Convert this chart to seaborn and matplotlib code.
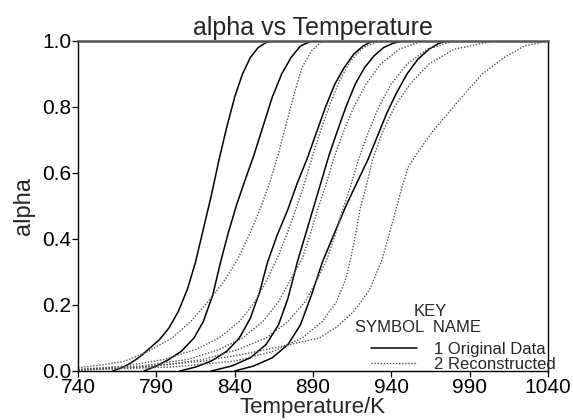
import matplotlib
matplotlib.use("Agg")
import matplotlib.pyplot as plt
import seaborn as sns
from matplotlib.lines import Line2D

# ---- data (Temperature/K, alpha) ----
orig1_T = [762, 768, 774, 780, 786, 792, 798, 804, 810, 815, 820, 825, 830, 835, 840, 845, 850, 855, 860, 864]
orig1_a = [0.0, 0.01, 0.025, 0.045, 0.07, 0.095, 0.13, 0.18, 0.25, 0.33, 0.43, 0.53, 0.64, 0.74, 0.83, 0.90, 0.95, 0.98, 0.995, 1.0]

orig2_T = [782, 790, 798, 806, 814, 820, 826, 831, 836, 841, 846, 852, 858, 864, 870, 876, 882, 889]
orig2_a = [0.0, 0.015, 0.035, 0.06, 0.10, 0.15, 0.23, 0.33, 0.42, 0.50, 0.57, 0.65, 0.74, 0.83, 0.90, 0.95, 0.985, 1.0]

orig3_T = [805, 815, 825, 835, 843, 850, 856, 861, 867, 874, 880, 886, 892, 898, 904, 910, 916, 922, 928]
orig3_a = [0.0, 0.012, 0.03, 0.06, 0.10, 0.16, 0.24, 0.33, 0.41, 0.49, 0.57, 0.64, 0.72, 0.80, 0.87, 0.92, 0.96, 0.985, 1.0]

orig4_T = [825, 838, 850, 860, 868, 874, 880, 885, 890, 895, 900, 905, 911, 917, 923, 929, 935, 941, 947]
orig4_a = [0.0, 0.015, 0.04, 0.08, 0.14, 0.22, 0.33, 0.41, 0.49, 0.57, 0.65, 0.72, 0.80, 0.87, 0.92, 0.955, 0.98, 0.993, 1.0]

orig5_T = [840, 852, 864, 874, 882, 889, 896, 903, 911, 918, 925, 931, 937, 943, 950, 957, 964, 970, 975]
orig5_a = [0.0, 0.015, 0.04, 0.08, 0.14, 0.23, 0.33, 0.41, 0.50, 0.57, 0.64, 0.71, 0.78, 0.84, 0.90, 0.945, 0.975, 0.992, 1.0]

recon1_T = [740, 755, 770, 785, 800, 812, 823, 833, 842, 850, 857, 863, 868, 873, 878, 883, 889, 896]
recon1_a = [0.01, 0.018, 0.03, 0.06, 0.10, 0.15, 0.21, 0.27, 0.34, 0.42, 0.50, 0.58, 0.66, 0.75, 0.84, 0.92, 0.97, 1.0]

recon2_T = [740, 770, 795, 815, 830, 843, 853, 861, 867, 873, 879, 884, 889, 895, 901, 907, 914, 922, 932]
recon2_a = [0.005, 0.015, 0.035, 0.065, 0.10, 0.15, 0.21, 0.28, 0.34, 0.41, 0.49, 0.56, 0.64, 0.73, 0.81, 0.88, 0.94, 0.98, 1.0]

recon3_T = [740, 780, 810, 830, 845, 858, 868, 876, 883, 888, 893, 898, 903, 909, 916, 924, 933, 945, 960]
recon3_a = [0.004, 0.015, 0.035, 0.065, 0.10, 0.15, 0.21, 0.28, 0.34, 0.41, 0.49, 0.56, 0.64, 0.72, 0.80, 0.87, 0.93, 0.975, 1.0]

recon4_T = [740, 790, 820, 842, 860, 874, 885, 893, 899, 904, 909, 914, 919, 925, 932, 940, 950, 963, 980]
recon4_a = [0.003, 0.015, 0.035, 0.065, 0.10, 0.15, 0.21, 0.28, 0.34, 0.41, 0.49, 0.56, 0.64, 0.72, 0.80, 0.87, 0.93, 0.975, 1.0]

recon5_T = [740, 800, 840, 865, 883, 896, 905, 911, 914, 917, 920, 924, 928, 934, 942, 952, 964, 980, 1005]
recon5_a = [0.003, 0.012, 0.03, 0.06, 0.10, 0.15, 0.21, 0.28, 0.34, 0.41, 0.49, 0.56, 0.64, 0.72, 0.80, 0.87, 0.93, 0.975, 1.0]

recon6_T = [740, 780, 820, 850, 875, 894, 905, 916, 926, 934, 939, 943, 947, 951, 958, 966, 976, 986, 998, 1012, 1025, 1040]
recon6_a = [0.003, 0.012, 0.03, 0.055, 0.08, 0.10, 0.133, 0.18, 0.245, 0.336, 0.42, 0.49, 0.56, 0.62, 0.67, 0.724, 0.78, 0.836, 0.90, 0.95, 0.985, 1.0]

original = [(orig1_T, orig1_a), (orig2_T, orig2_a), (orig3_T, orig3_a),
            (orig4_T, orig4_a), (orig5_T, orig5_a)]
reconstructed = [(recon1_T, recon1_a), (recon2_T, recon2_a), (recon3_T, recon3_a),
                 (recon4_T, recon4_a), (recon5_T, recon5_a), (recon6_T, recon6_a)]

x_ticks = [740, 790, 840, 890, 940, 990, 1040]
y_ticks = [0.0, 0.2, 0.4, 0.6, 0.8, 1.0]
legend_labels = ["1 Original Data", "2 Reconstructed"]

sns.set_style("ticks")
plt.rcParams['font.family'] = ['Liberation Sans', 'DejaVu Sans']

fig = plt.figure(figsize=(5.73, 4.20), dpi=100)
ax = fig.add_axes([78 / 573, 1 - 371 / 420, 470 / 573, 330 / 420])

DOT = (0, (1, 1.2))
for T, a in original:
    sns.lineplot(x=T, y=a, ax=ax, color='black', linewidth=1.1, linestyle='-',
                 estimator=None, sort=False)
for T, a in reconstructed:
    sns.lineplot(x=T, y=a, ax=ax, color='#555555', linewidth=1.0, linestyle=DOT,
                 estimator=None, sort=False)

ax.set_xlim(740, 1040)
ax.set_ylim(0.0, 1.0)
ax.set_xticks(x_ticks)
ax.set_xticklabels([str(t) for t in x_ticks])
ax.set_yticks(y_ticks)
ax.set_yticklabels([f"{t:.1f}" for t in y_ticks])
ax.tick_params(labelsize=15, direction='out', length=4, width=0.9, colors='black', pad=1)
for s in ax.spines.values():
    s.set_visible(True)
    s.set_linewidth(1.0)
    s.set_color('black')
ax.spines['top'].set_linewidth(1.8)
ax.spines['top'].set_color('#555555')

ax.set_title("alpha vs Temperature", fontsize=18, pad=4)
ax.set_xlabel("Temperature/K", fontsize=16, labelpad=0)
ax.set_ylabel("alpha", fontsize=17, labelpad=5)

# key block
ax.text(0.749, 0.179, "KEY", transform=ax.transAxes, ha='center', va='center', fontsize=12)
ax.text(0.723, 0.133, "SYMBOL  NAME", transform=ax.transAxes, ha='center', va='center', fontsize=12)
handles = [Line2D([], [], color='black', linewidth=1.1, linestyle='-'),
           Line2D([], [], color='#555555', linewidth=1.0, linestyle=DOT)]
ax.legend(handles, legend_labels, loc='upper left', bbox_to_anchor=(0.623, 0.088),
          frameon=False, fontsize=12, handlelength=2.75, handletextpad=1.05,
          borderpad=0.0, borderaxespad=0.0, labelspacing=0.0)

fig.savefig("out.png", dpi=100)
